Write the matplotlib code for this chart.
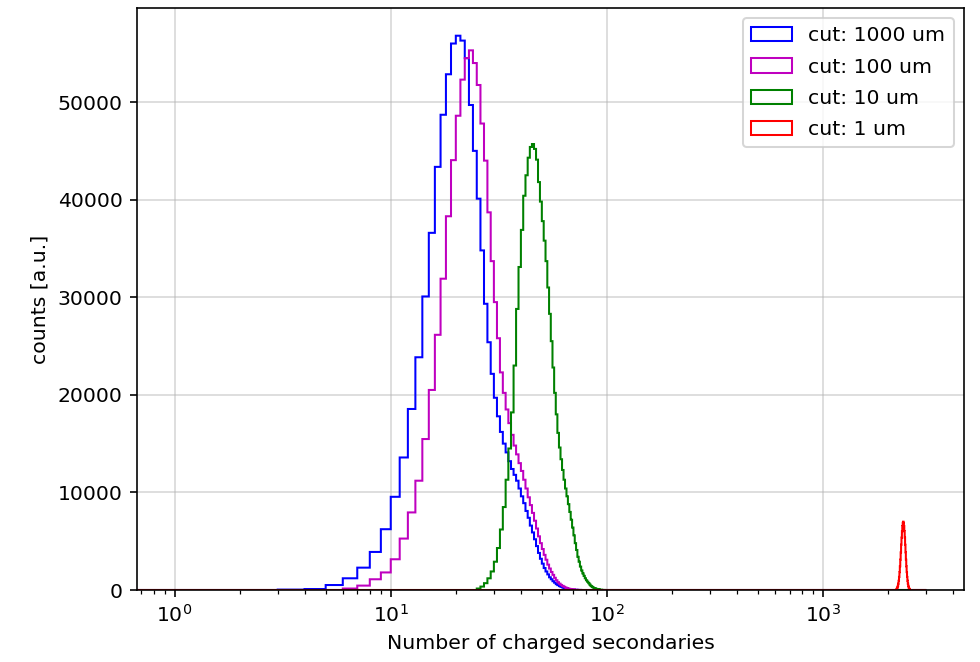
import numpy as np
import matplotlib
matplotlib.use("Agg")
import matplotlib.pyplot as plt

# Integer-valued multiplicity bins shared by all histograms
bin_edges = np.arange(0, 3001)

# cut: 1000 um -- counts per unit bin, first bin at 3
cut1000_start = 3
cut1000_counts = [
    40, 100, 510, 1200, 2290, 3900, 6230, 9550, 13580, 18550,
    23850, 30080, 36600, 43360, 48700, 52850, 56000, 56800, 56300, 54500,
    49700, 45000, 40100, 34800, 29330, 25390, 22150, 19700, 17800, 16200,
    15000, 14100, 13200, 12400, 11800, 11200, 10400, 9600, 8900, 8100,
    7400, 6600, 5900, 5200, 4500, 3800, 3200, 2700, 2250, 1900,
    1600, 1300, 1100, 900, 750, 600, 500, 400, 330, 270,
    220, 170, 130, 100, 80, 60, 45, 35, 25, 18,
    12, 8, 5,
]

# cut: 100 um -- first bin at 6
cut100_start = 6
cut100_counts = [
    150, 450, 1100, 1800, 3150, 5270, 7950, 11200, 15470, 20500,
    26150, 31900, 38300, 44050, 48600, 52300, 54500, 55300, 54000, 51750,
    47800, 44000, 38700, 33700, 29500, 25800, 22300, 20200, 18500, 17100,
    15900, 14800, 13900, 13000, 12200, 11300, 10400, 9500, 8700, 7900,
    7100, 6300, 5500, 4800, 4200, 3600, 3100, 2600, 2200, 1850,
    1550, 1250, 1000, 800, 650, 520, 420, 330, 260, 200,
    150, 110, 80, 60, 45, 30, 20, 14, 9, 5,
]

# cut: 10 um -- first bin at 25
cut10_start = 25
cut10_counts = [
    150, 350, 700, 1200, 1900, 2900, 4300, 6200, 8500, 11300,
    14500, 18200, 23000, 28800, 33100, 36900, 40400, 42500, 44300, 45400,
    45700, 45200, 44100, 41800, 39800, 37800, 35800, 33700, 31000, 28300,
    25500, 22800, 20200, 18000, 16100, 14600, 13400, 12300, 11300, 10400,
    9600, 8800, 8000, 7200, 6400, 5600, 4800, 4100, 3400, 2900,
    2400, 2000, 1700, 1450, 1200, 1000, 850, 700, 550, 420,
    330, 260, 200, 160, 120, 90, 70, 50, 35, 25,
    15, 10, 5,
]

# cut: 1 um -- counts per unit bin, given in blocks of 10 bins from 2185
cut1_start = 2185
cut1_block = 10
cut1_counts = [
    100, 170, 275, 430, 650, 950, 1340, 1830, 2430, 3110,
    3860, 4640, 5370, 6030, 6550, 6880, 7000, 6880, 6550, 6030,
    5370, 4640, 3860, 3110, 2430, 1830, 1340, 950, 650, 430,
    275, 170, 100,
]

labels = ["cut: 1000 um", "cut: 100 um", "cut: 10 um", "cut: 1 um"]
colors = ["b", "m", "g", "r"]


def unit_weights(start, counts, repeat=1):
    w = np.zeros(len(bin_edges) - 1)
    vals = np.repeat(np.asarray(counts, dtype=float), repeat)
    w[start:start + len(vals)] = vals
    return w


series = [
    unit_weights(cut1000_start, cut1000_counts),
    unit_weights(cut100_start, cut100_counts),
    unit_weights(cut10_start, cut10_counts),
    unit_weights(cut1_start, cut1_counts, cut1_block),
]

DPI = 147
W, H = 980, 662
fig = plt.figure(figsize=(W / DPI, H / DPI), dpi=DPI)
left, right, top, bottom = 137.0, 963.8, 8.0, 590.0
ax = fig.add_axes([left / W, 1 - bottom / H, (right - left) / W, (bottom - top) / H])

centers = bin_edges[:-1] + 0.5
for w, lab, col in zip(series, labels, colors):
    ax.hist(centers, bins=bin_edges, weights=w, histtype="step",
            color=col, label=lab)

ax.set_xscale("log")
ax.set_xlabel("Number of charged secondaries")
ax.set_ylabel("counts [a.u.]")
ax.grid(True, color="#b0b0b0", alpha=0.5)
ax.legend(loc="upper right", labelspacing=0.6)

fig.savefig("out.png", dpi=DPI)
